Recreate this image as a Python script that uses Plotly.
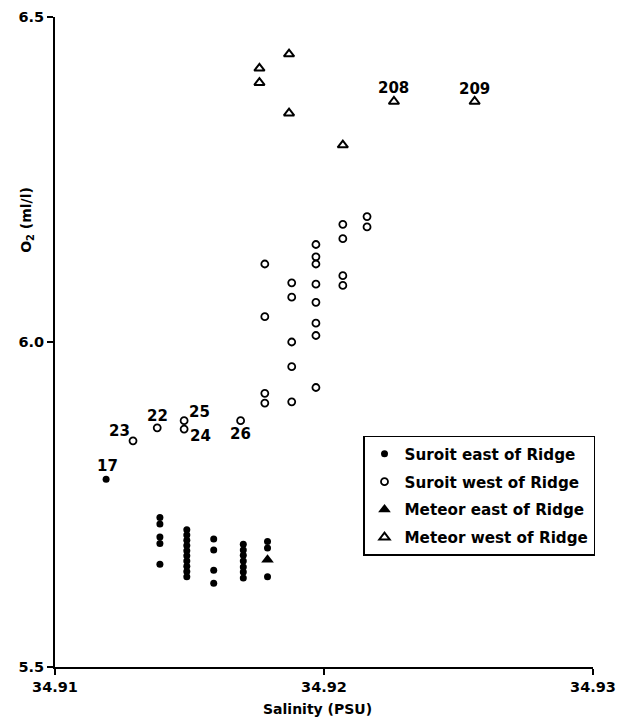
import plotly.graph_objects as go

# Suroit stations east of the Ridge (filled circles)
suroit_east_sal = [34.9119,
                   34.9139, 34.9139, 34.9139, 34.9139, 34.9139,
                   34.9149, 34.9149, 34.9149, 34.9149, 34.9149,
                   34.9149, 34.9149, 34.9149, 34.9149, 34.9149,
                   34.9159, 34.9159, 34.9159, 34.9159,
                   34.9170, 34.9170, 34.9170, 34.9170, 34.9170, 34.9170, 34.9170,
                   34.9179, 34.9179, 34.9179]
suroit_east_o2 = [5.789,
                  5.730, 5.720, 5.700, 5.690, 5.658,
                  5.711, 5.703, 5.695, 5.687, 5.679,
                  5.671, 5.663, 5.655, 5.647, 5.639,
                  5.697, 5.680, 5.649, 5.629,
                  5.689, 5.680, 5.672, 5.663, 5.654, 5.646, 5.637,
                  5.693, 5.683, 5.639]

# Suroit stations west of the Ridge (open circles)
suroit_west_sal = [34.9129, 34.9138, 34.9148, 34.9148, 34.9169,
                   34.9178, 34.9178, 34.9178, 34.9178,
                   34.9188, 34.9188, 34.9188, 34.9188, 34.9188,
                   34.9197, 34.9197, 34.9197, 34.9197, 34.9197, 34.9197, 34.9197, 34.9197,
                   34.9207, 34.9207, 34.9207, 34.9207,
                   34.9216, 34.9216]
suroit_west_o2 = [5.848, 5.868, 5.879, 5.866, 5.879,
                  5.921, 5.906, 6.120, 6.039,
                  6.091, 6.069, 6.000, 5.962, 5.908,
                  6.150, 6.131, 6.120, 6.089, 6.061, 6.029, 6.010, 5.930,
                  6.181, 6.159, 6.102, 6.087,
                  6.193, 6.177]

# Meteor stations east of the Ridge (filled triangle)
meteor_east_sal = [34.9179]
meteor_east_o2 = [5.665]

# Meteor stations west of the Ridge (open triangles)
meteor_west_sal = [34.9176, 34.9176, 34.9187, 34.9187, 34.9207, 34.9226, 34.9256]
meteor_west_o2 = [6.421, 6.399, 6.443, 6.352, 6.303, 6.370, 6.370]

# Station numbers written next to selected samples
station_labels = ["17", "23", "22", "25", "24", "26", "208", "209"]
station_sal = [34.9119, 34.9129, 34.9138, 34.9148, 34.9148, 34.9169, 34.9226, 34.9256]
station_o2 = [5.789, 5.848, 5.868, 5.879, 5.866, 5.879, 6.370, 6.370]
label_dx = [1, -14, 0, 15, 16, 0, 0, 0]
label_dy = [13, 10, 12, 9, -7, -13, 14, 13]

x_ticks = [34.91, 34.92, 34.93]
x_ticktext = ["34.91", "34.92", "34.93"]
y_ticks = [5.5, 6.0, 6.5]
y_ticktext = ["5.5", "6.0", "6.5"]

FONT = "DejaVu Sans, Liberation Sans, sans-serif"


def bold(s):
    return "<b>" + s + "</b>"


fig = go.Figure()

fig.add_trace(go.Scatter(
    x=suroit_east_sal, y=suroit_east_o2, mode="markers",
    name=bold("Suroit east of Ridge"), legendgroup="se",
    marker=dict(symbol="circle", size=7, color="black", line=dict(width=0)),
))
fig.add_trace(go.Scatter(
    x=suroit_west_sal, y=suroit_west_o2, mode="markers",
    name=bold("Suroit west of Ridge"), legendgroup="sw",
    marker=dict(symbol="circle-open", size=7, color="black", line=dict(width=1.8, color="black")),
))
fig.add_trace(go.Scatter(
    x=meteor_east_sal, y=meteor_east_o2, mode="markers",
    name=bold("Meteor east of Ridge"), legendgroup="me",
    marker=dict(symbol="triangle-up", size=11, color="black", line=dict(width=0)),
))
fig.add_trace(go.Scatter(
    x=meteor_west_sal, y=meteor_west_o2, mode="markers",
    name=bold("Meteor west of Ridge"), legendgroup="mw",
    marker=dict(symbol="triangle-up-open", size=9, color="black", line=dict(width=2, color="black")),
))

for lab, sx, oy, dx, dy in zip(station_labels, station_sal, station_o2, label_dx, label_dy):
    fig.add_annotation(
        x=sx, y=oy, xref="x", yref="y", text=bold(lab), showarrow=False,
        xshift=dx, yshift=dy, xanchor="center", yanchor="middle",
        font=dict(family=FONT, size=15, color="black"),
    )

# Axis titles
fig.add_annotation(
    x=0.4888, y=-0.064, xref="paper", yref="paper",
    xanchor="center", yanchor="middle",
    text=bold("Salinity (PSU)"), showarrow=False,
    font=dict(family=FONT, size=14, color="black"),
)
fig.add_annotation(
    x=-0.052, y=0.688, xref="paper", yref="paper",
    xanchor="center", yanchor="middle",
    text=bold("O<sub>2</sub> (ml/l)"), showarrow=False, textangle=-90,
    font=dict(family=FONT, size=14, color="black"),
)

axis_common = dict(
    showgrid=False, zeroline=False, showline=True, linecolor="black", linewidth=2,
    ticks="outside", ticklen=6, tickwidth=2, tickcolor="black",
    tickfont=dict(family=FONT, size=14.5, color="black"),
    mirror=False, automargin=False,
)

fig.update_xaxes(range=[34.91, 34.93], tickvals=x_ticks,
                 ticktext=[bold(t) for t in x_ticktext], **axis_common)
fig.update_yaxes(range=[5.5, 6.5], tickvals=y_ticks,
                 ticktext=[bold(t) for t in y_ticktext], **axis_common)

fig.update_layout(
    width=619, height=717,
    margin=dict(l=55, r=26, t=17, b=50, autoexpand=False),
    paper_bgcolor="white", plot_bgcolor="white",
    font=dict(family=FONT, size=14, color="black"),
    showlegend=True,
    legend=dict(
        x=0.5725, y=0.3554, xanchor="left", yanchor="top",
        bordercolor="black", borderwidth=1.5, bgcolor="white",
        font=dict(family=FONT, size=15.2, color="black"),
        tracegroupgap=5, itemsizing="trace",
    ),
)

fig.write_html("out.html")
